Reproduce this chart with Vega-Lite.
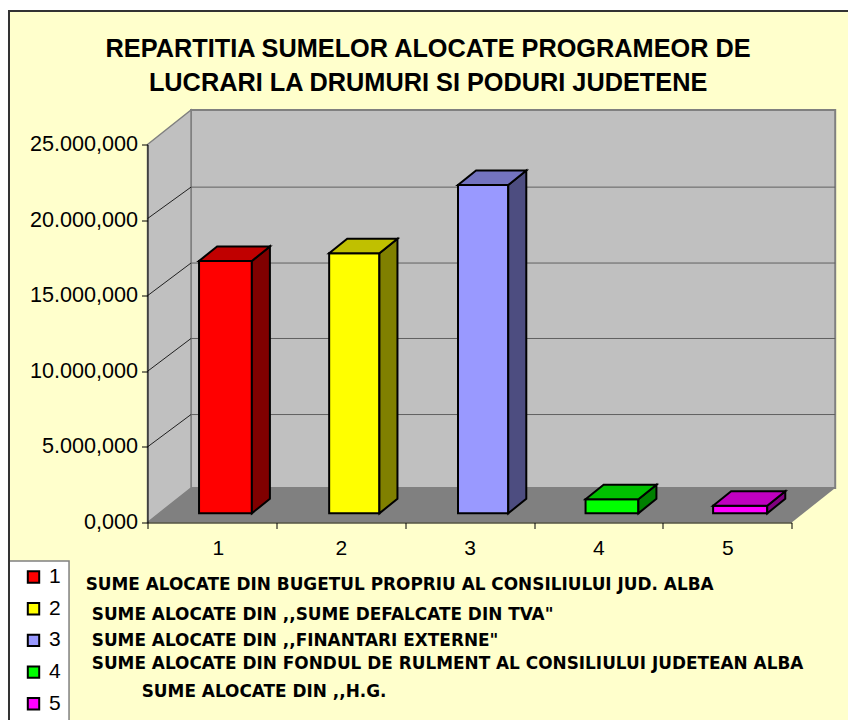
{
"$schema":"https://vega.github.io/schema/vega-lite/v6.json",
"width":644.2,"height":378,
"autosize":"none",
"padding":{"left":147.5,"top":144.5,"right":56.3,"bottom":197.5},
"background":"#FFFFFF",
"config":{"view":{"stroke":null},"font":"Liberation Sans"},
"title":{"text":["REPARTITIA SUMELOR ALOCATE PROGRAMEOR DE","LUCRARI LA DRUMURI SI PODURI JUDETENE"],"font":"Liberation Sans","fontSize":25.3,"fontWeight":"bold","color":"#000000","lineHeight":34,"anchor":"middle","frame":"group","dx":-41.5,"offset":-86,"zindex":2},
"datasets":{
"bars":[
{"category":"1","start":0.40,"end":0.81,"value":16690000},
{"category":"2","start":1.41,"end":1.80,"value":17200000},
{"category":"3","start":2.41,"end":2.80,"value":21710000},
{"category":"4","start":3.40,"end":3.81,"value":926000},
{"category":"5","start":4.39,"end":4.81,"value":496000}],
"sideFaces":[
{"category":"1","pos":0.81,"top":17298000,"bottom":608000},{"category":"1","pos":0.95,"top":18257000,"bottom":1567000},
{"category":"2","pos":1.80,"top":17808000,"bottom":608000},{"category":"2","pos":1.94,"top":18767000,"bottom":1567000},
{"category":"3","pos":2.80,"top":22318000,"bottom":608000},{"category":"3","pos":2.94,"top":23277000,"bottom":1567000},
{"category":"4","pos":3.81,"top":1534000,"bottom":608000},{"category":"4","pos":3.95,"top":2493000,"bottom":1567000},
{"category":"5","pos":4.81,"top":1104000,"bottom":608000},{"category":"5","pos":4.95,"top":2063000,"bottom":1567000}],
"topFaces":[
{"category":"1","level":17298000,"a":0.40,"b":0.81},{"category":"1","level":18257000,"a":0.54,"b":0.95},
{"category":"2","level":17808000,"a":1.41,"b":1.80},{"category":"2","level":18767000,"a":1.55,"b":1.94},
{"category":"3","level":22318000,"a":2.41,"b":2.80},{"category":"3","level":23277000,"a":2.55,"b":2.94},
{"category":"4","level":1534000,"a":3.40,"b":3.81},{"category":"4","level":2493000,"a":3.54,"b":3.95},
{"category":"5","level":1104000,"a":4.39,"b":4.81},{"category":"5","level":2063000,"a":4.53,"b":4.95}],
"grid":[
{"tick":5000000,"level":5000000,"pos":0},{"tick":5000000,"level":7140000,"pos":0.3377},
{"tick":10000000,"level":10000000,"pos":0},{"tick":10000000,"level":12170000,"pos":0.3377},
{"tick":15000000,"level":15000000,"pos":0},{"tick":15000000,"level":17160000,"pos":0.3377},
{"tick":20000000,"level":20100000,"pos":0},{"tick":20000000,"level":22180000,"pos":0.3377}],
"gridBack":[
{"level":7140000},{"level":12170000},{"level":17160000},{"level":22180000}],
"leftWall":[{"pos":0,"top":25000000,"bottom":0},{"pos":0.3377,"top":27280000,"bottom":2280000}],
"floor":[{"level":0,"a":0,"b":5},{"level":2280000,"a":0.3377,"b":5.3377}],
"backWall":[{"a":0.3377,"b":5.3377,"top":27280000,"bottom":2280000}],
"frame":[{"a":-1.075,"b":5.49,"top":33830000,"bottom":-13300000}],
"legendBox":[{"a":-1.075,"b":-0.609,"top":-2546000,"bottom":-13300000}],
"notes":[
{"note":"SUME ALOCATE DIN BUGETUL PROPRIU AL CONSILIULUI JUD. ALBA","pos":-0.48,"level":-4140000},
{"note":"SUME ALOCATE DIN ,,SUME DEFALCATE DIN TVA\"","pos":-0.433,"level":-6120000},
{"note":"SUME ALOCATE DIN ,,FINANTARI EXTERNE\"","pos":-0.433,"level":-7840000},
{"note":"SUME ALOCATE DIN FONDUL DE RULMENT AL CONSILIULUI JUDETEAN ALBA","pos":-0.433,"level":-9340000},
{"note":"SUME ALOCATE DIN ,,H.G.","pos":-0.045,"level":-11190000}]
},
"layer":[
{"data":{"name":"frame"},"mark":{"type":"rect","fill":"#FFFFCC","clip":false},
 "encoding":{"x":{"field":"a","type":"quantitative","scale":{"domain":[0,5],"nice":false,"zero":false},
   "axis":{"zindex":1,"values":[0,1,2,3,4,5],"title":null,"grid":false,"domainColor":"#000000","tickColor":"#000000","tickSize":6,"labelFont":"Liberation Sans","labelFontSize":21,"labelColor":"#000000","labelOffset":64.4,"labelPadding":9,"labelExpr":"datum.value<5 ? format(datum.value+1,'d') : ''"}},
  "x2":{"field":"b"},
  "y":{"field":"top","type":"quantitative","scale":{"domain":[0,25000000],"nice":false,"zero":false},
   "axis":{"zindex":1,"values":[0,5000000,10000000,15000000,20000000,25000000],"title":null,"grid":false,"domainColor":"#000000","tickColor":"#000000","tickSize":6,"labelFont":"Liberation Sans","labelFontSize":21.6,"labelColor":"#000000","labelPadding":4,"labelExpr":"datum.value==0 ? '0,000' : format(datum.value/1000000,'d')+'.000,000'"}},
  "y2":{"field":"bottom"}}},
{"data":{"name":"legendBox"},"mark":{"type":"rect","fill":"#FFFFFF","stroke":"#808080","strokeWidth":1.5},
 "encoding":{"x":{"field":"a","type":"quantitative"},"x2":{"field":"b"},"y":{"field":"top","type":"quantitative"},"y2":{"field":"bottom"}}},
{"data":{"name":"frame"},"mark":{"type":"rect","fillOpacity":0,"stroke":"#333333","strokeWidth":2},
 "encoding":{"x":{"field":"a","type":"quantitative"},"x2":{"field":"b"},"y":{"field":"top","type":"quantitative"},"y2":{"field":"bottom"}}},
{"data":{"name":"backWall"},"mark":{"type":"rect","fill":"#C0C0C0","stroke":"#808080","strokeWidth":2},
 "encoding":{"x":{"field":"a","type":"quantitative"},"x2":{"field":"b"},"y":{"field":"top","type":"quantitative"},"y2":{"field":"bottom"}}},
{"data":{"name":"leftWall"},"mark":{"type":"area","fill":"#C0C0C0","stroke":"#808080","strokeWidth":1.5},
 "encoding":{"x":{"field":"pos","type":"quantitative"},"y":{"field":"top","type":"quantitative"},"y2":{"field":"bottom"}}},
{"data":{"name":"floor"},"mark":{"type":"area","orient":"horizontal","fill":"#808080"},
 "encoding":{"y":{"field":"level","type":"quantitative"},"x":{"field":"a","type":"quantitative"},"x2":{"field":"b"}}},
{"data":{"name":"gridBack"},"mark":{"type":"rule","stroke":"#606060","strokeWidth":1},
 "encoding":{"y":{"field":"level","type":"quantitative"},"x":{"datum":0.3377,"type":"quantitative"},"x2":{"datum":5.3377}}},
{"data":{"name":"grid"},"mark":{"type":"line","stroke":"#202020","strokeWidth":1},
 "encoding":{"x":{"field":"pos","type":"quantitative"},"y":{"field":"level","type":"quantitative"},"detail":{"field":"tick"}}},
{"data":{"name":"bars"},"mark":{"type":"rect","stroke":"#000000","strokeWidth":2,"yOffset":-9.2,"y2Offset":-9.2},
 "encoding":{"x":{"field":"start","type":"quantitative"},"x2":{"field":"end"},"y":{"field":"value","type":"quantitative"},"y2":{"datum":0},
  "color":{"field":"category","type":"nominal","scale":{"domain":["1","2","3","4","5"],"range":["#FF0000","#FFFF00","#9999FF","#00FF00","#FF00FF"]},
   "legend":{"orient":"none","legendX":-124.5,"legendY":422,"title":null,"symbolType":"square","symbolSize":130,"symbolStrokeColor":"#000000","symbolStrokeWidth":2,"labelFont":"Liberation Sans","labelFontSize":21,"labelColor":"#000000","labelOffset":5,"rowPadding":9.7,"padding":0,"offset":0}}}},
{"data":{"name":"sideFaces"},"mark":{"type":"area","stroke":"#000000","strokeWidth":2},
 "encoding":{"x":{"field":"pos","type":"quantitative"},"y":{"field":"top","type":"quantitative"},"y2":{"field":"bottom"},"detail":{"field":"category"},
  "color":{"field":"category","type":"nominal","scale":{"domain":["1","2","3","4","5"],"range":["#800000","#808000","#4D4D80","#008000","#800080"]},"legend":null}}},
{"data":{"name":"topFaces"},"mark":{"type":"area","orient":"horizontal","stroke":"#000000","strokeWidth":2},
 "encoding":{"y":{"field":"level","type":"quantitative"},"x":{"field":"a","type":"quantitative"},"x2":{"field":"b"},"detail":{"field":"category"},
  "color":{"field":"category","type":"nominal","scale":{"domain":["1","2","3","4","5"],"range":["#C00000","#C0C000","#7373BF","#00C000","#C000C0"]},"legend":null}}},
{"data":{"name":"notes"},"mark":{"type":"text","align":"left","baseline":"middle","font":"DejaVu Sans","fontWeight":"bold","fontSize":16.9,"color":"#000000"},
 "encoding":{"x":{"field":"pos","type":"quantitative"},"y":{"field":"level","type":"quantitative"},"text":{"field":"note"}}}
],
"resolve":{"scale":{"color":"independent"}}
}
